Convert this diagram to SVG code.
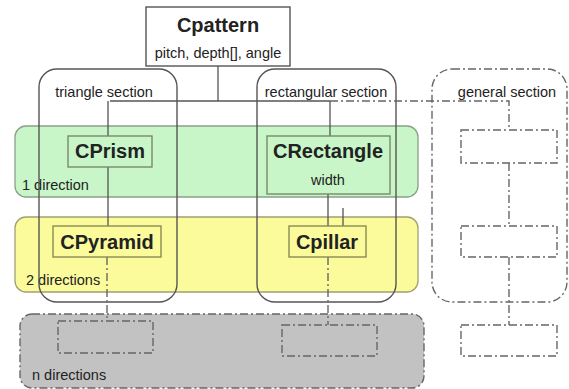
<svg xmlns="http://www.w3.org/2000/svg" width="569" height="389" viewBox="0 0 569 389">
<style>
text{font-family:"Liberation Sans",Arial,sans-serif;fill:#222}
.b{font-weight:bold;font-size:20px;text-anchor:middle}
.n{font-size:14.5px}
.m{text-anchor:middle}
.sec{fill:none;stroke:#555;stroke-width:1.4}
.dd{fill:none;stroke:#666;stroke-width:1.4;stroke-dasharray:8 3 2 3}
.node{stroke:#7a8a6a;stroke-width:1.4}
.ln{stroke:#555;stroke-width:1.3;fill:none}
</style>
<rect width="569" height="389" fill="#fff"/>
<g id="bands">
<rect x="15" y="126" width="403" height="71" rx="11" fill="#c8f6c8" stroke="#8aa08a" stroke-width="1.3"/>
<rect x="15" y="217" width="403" height="75" rx="11" fill="#fbfb9c" stroke="#a0a070" stroke-width="1.3"/>
<rect x="20" y="314" width="404" height="74" rx="12" class="dd" style="fill:#c2c2c2"/>
<text class="n" x="22" y="190">1 direction</text>
<text class="n" x="26" y="285">2 directions</text>
<text class="n" x="32" y="380">n directions</text>
</g>
<g id="sections">
<rect class="sec" x="39" y="69" width="138" height="233" rx="18"/>
<rect class="sec" x="257" y="69" width="139" height="233" rx="18"/>
<rect class="dd" x="432" y="69" width="135" height="233" rx="20"/>
<text class="n m" x="104" y="97">triangle section</text>
<text class="n m" x="326" y="97">rectangular section</text>
<text class="n m" x="507" y="97">general section</text>
</g>
<g id="connectors">
<path class="ln" d="M218 66V101M110 101H330M108 101V136M108 167V226M330 101V136M328 194V226M343 208V226"/>
<path class="dd" d="M330 101H509V130M509 163V226M509 257V325M107 257V321M328 257V325"/>
</g>
<g id="Cpattern">
<rect x="146" y="7" width="144" height="59" fill="#fff" stroke="#555" stroke-width="1.4"/>
<text class="b" x="218" y="32">Cpattern</text>
<text class="n m" x="218" y="58">pitch, depth[], angle</text>
</g>
<g id="CPrism">
<rect class="node" x="68" y="136" width="84" height="31" fill="#c8f6c8"/>
<text class="b" x="110" y="158">CPrism</text>
</g>
<g id="CRectangle">
<rect class="node" x="267" y="136" width="123" height="58" fill="#c8f6c8"/>
<text class="b" x="328" y="158">CRectangle</text>
<text class="n m" x="328" y="185">width</text>
</g>
<g id="CPyramid">
<rect x="53" y="226" width="108" height="31" fill="#fbfb9c" stroke="#8a8a55" stroke-width="1.4"/>
<text class="b" x="107" y="249">CPyramid</text>
</g>
<g id="Cpillar">
<rect x="289" y="226" width="77" height="31" fill="#fbfb9c" stroke="#8a8a55" stroke-width="1.4"/>
<text class="b" x="327" y="249">Cpillar</text>
</g>
<g id="nLeft"><rect class="dd" x="58" y="321" width="95" height="32"/></g>
<g id="nRight"><rect class="dd" x="282" y="325" width="95" height="31"/></g>
<g id="g1"><rect class="dd" x="461" y="130" width="96" height="33"/></g>
<g id="g2"><rect class="dd" x="461" y="226" width="96" height="31"/></g>
<g id="g3"><rect class="dd" x="461" y="325" width="96" height="31"/></g>
</svg>
